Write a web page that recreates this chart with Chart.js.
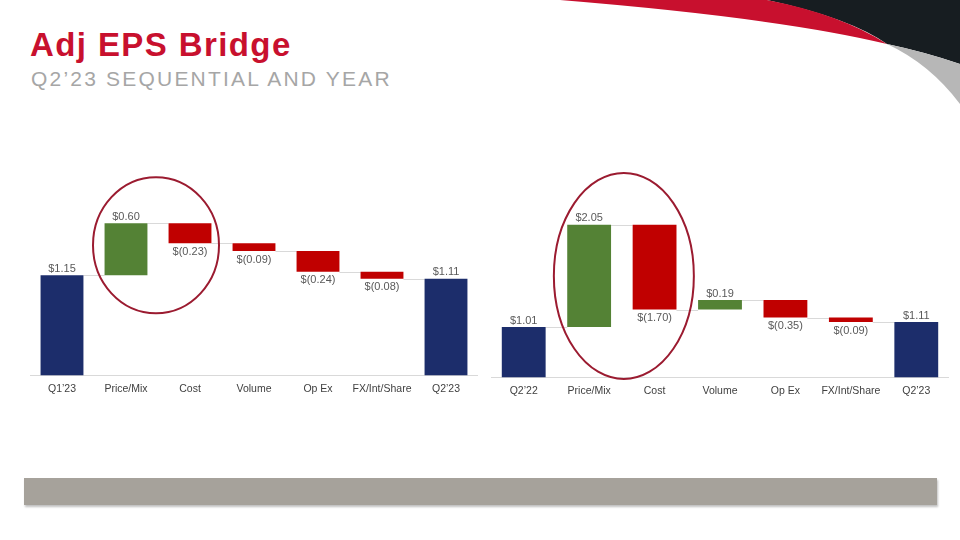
<!DOCTYPE html>
<html>
<head>
<meta charset="utf-8">
<script src="https://cdn.jsdelivr.net/npm/chart.js@4/dist/chart.umd.min.js"></script>
<style>
  html, body { margin: 0; padding: 0; background: #fff; }
  body { width: 960px; height: 540px; position: relative; overflow: hidden; font-family: "Liberation Sans", Arial, sans-serif; }
  #swoosh { position: absolute; left: 0; top: 0; }
  h1 { position: absolute; left: 30px; top: 27px; margin: 0; font-size: 33px; font-weight: bold; color: #c8102e; letter-spacing: 1.4px; line-height: 36px; }
  h2 { position: absolute; left: 31px; top: 67px; margin: 0; font-size: 21px; font-weight: normal; color: #a6a6a6; letter-spacing: 2.2px; line-height: 24px; }
  canvas.chart { position: absolute; }
  #leftChart { left: 30px; top: 157px; }
  #rightChart { left: 491px; top: 157px; }
  #footer { position: absolute; left: 24px; top: 478px; width: 913px; height: 27px; background: #a6a29b; box-shadow: 1px 2px 2px rgba(0,0,0,0.25); }
</style>
</head>
<body>
<svg id="swoosh" width="960" height="540">
  <path d="M767,0 Q850,18 887,44 Q925,52 960,64 L960,0 Z" fill="#171d21"/>
  <path d="M560,0 Q780,18 887,44 Q840,14 767,0 Z" fill="#c8102e"/>
  <path d="M887,44 Q925,52 960,64 L960,104 Q930,64 887,44 Z" fill="#b7b7b7"/>
</svg>
<h1>Adj EPS Bridge</h1>
<h2>Q2’23 SEQUENTIAL AND YEAR</h2>
<canvas id="leftChart" class="chart" width="448" height="250"></canvas>
<canvas id="rightChart" class="chart" width="458" height="252"></canvas>
<div id="footer"></div>
<script>
// sequential bridge (Q1'23 -> Q2'23)
const seqCategories = ['Q1\u201923', 'Price/Mix', 'Cost', 'Volume', 'Op Ex', 'FX/Int/Share', 'Q2\u201923'];
const seqValues = [1.15, 0.60, -0.23, -0.09, -0.24, -0.08, 1.11];

// year over year bridge (Q2'22 -> Q2'23)
const yoyCategories = ['Q2\u201922', 'Price/Mix', 'Cost', 'Volume', 'Op Ex', 'FX/Int/Share', 'Q2\u201923'];
const yoyValues = [1.01, 2.05, -1.70, 0.19, -0.35, -0.09, 1.11];

const colors = { total: '#1c2d6b', up: '#548235', down: '#c00000', line: '#d9d9d9', text: '#595959', ring: '#9b1b30' };

const fmt = (v, isTotal) => {
    const s = Math.abs(v).toFixed(2);
    if (isTotal || v >= 0) return '$' + s;
    return '$(' + s + ')';
};

// turn deltas into floating [start, end] bars
const buildBars = values => {
    let run = 0;
    return values.map((v, i) => {
        const isTotal = i === 0 || i === values.length - 1;
        if (isTotal) { run = v; return [0, v]; }
        const start = run;
        run = run + v;
        return [start, run];
    });
};

const bridgePlugin = {
    id: 'bridge',
    beforeDatasetsDraw(chart) {
        const meta = chart.getDatasetMeta(0);
        const bars = chart.data.datasets[0].data;
        const y = chart.scales.y;
        const ctx = chart.ctx;
        ctx.save();
        ctx.strokeStyle = colors.line;
        ctx.lineWidth = 1;
        for (let i = 0; i < bars.length - 1; i++) {
            const a = meta.data[i], b = meta.data[i + 1];
            const py = Math.round(y.getPixelForValue(bars[i][1])) + 0.5;
            ctx.beginPath();
            ctx.moveTo(a.x + a.width / 2, py);
            ctx.lineTo(b.x - b.width / 2, py);
            ctx.stroke();
        }
        ctx.restore();
    },
    afterDatasetsDraw(chart, args, opts) {
        const meta = chart.getDatasetMeta(0);
        const values = opts.values;
        const bars = chart.data.datasets[0].data;
        const ctx = chart.ctx;
        ctx.save();
        ctx.font = '11px "Liberation Sans", Arial, sans-serif';
        ctx.fillStyle = colors.text;
        ctx.textAlign = 'center';
        values.forEach((v, i) => {
            const el = meta.data[i];
            const isTotal = i === 0 || i === values.length - 1;
            const top = Math.min(el.y, el.base), bottom = Math.max(el.y, el.base);
            if (isTotal || v >= 0) {
                ctx.textBaseline = 'bottom';
                ctx.fillText(fmt(v, isTotal), el.x, top - 1);
            } else {
                ctx.textBaseline = 'top';
                ctx.fillText(fmt(v, isTotal), el.x, bottom + 3);
            }
        });
        // highlight ring around Price/Mix and Cost
        const r = opts.ring;
        const a = meta.data[1], b = meta.data[2];
        const lo = Math.min(bars[1][0], bars[1][1], bars[2][0], bars[2][1]);
        const hi = Math.max(bars[1][0], bars[1][1], bars[2][0], bars[2][1]);
        const cy = chart.scales.y.getPixelForValue((lo + hi) / 2) + r.dy;
        ctx.strokeStyle = colors.ring;
        ctx.lineWidth = 2;
        ctx.beginPath();
        ctx.ellipse((a.x + b.x) / 2 + r.dx, cy, r.rx, r.ry, 0, 0, Math.PI * 2);
        ctx.stroke();
        ctx.restore();
    }
};

const makeChart = (id, categories, values, yMax, ring) => {
    const bars = buildBars(values);
    const bg = values.map((v, i) => (i === 0 || i === values.length - 1) ? colors.total : (v >= 0 ? colors.up : colors.down));
    return new Chart(document.getElementById(id), {
        type: 'bar',
        data: {
            labels: categories,
            datasets: [{ data: bars, backgroundColor: bg, barPercentage: 0.67, categoryPercentage: 1 }]
        },
        options: {
            responsive: false,
            animation: false,
            layout: { padding: { bottom: 5 } },
            plugins: {
                legend: { display: false },
                tooltip: { enabled: false },
                bridge: { values: values, ring: ring }
            },
            scales: {
                x: {
                    grid: { display: false, drawTicks: false },
                    border: { display: true, color: colors.line, width: 1 },
                    ticks: {
                        color: '#404040', padding: 7, maxRotation: 0, minRotation: 0, autoSkip: false,
                        font: { family: '"Liberation Sans", Arial, sans-serif', size: 10.5 }
                    }
                },
                y: { display: false, min: 0, max: yMax }
            }
        },
        plugins: [bridgePlugin]
    });
};

makeChart('leftChart', seqCategories, seqValues, 2.51, { rx: 63, ry: 68, dx: -2, dy: -4 });
makeChart('rightChart', yoyCategories, yoyValues, 4.42, { rx: 70, ry: 103, dx: 2, dy: 0 });
</script>
</body>
</html>
